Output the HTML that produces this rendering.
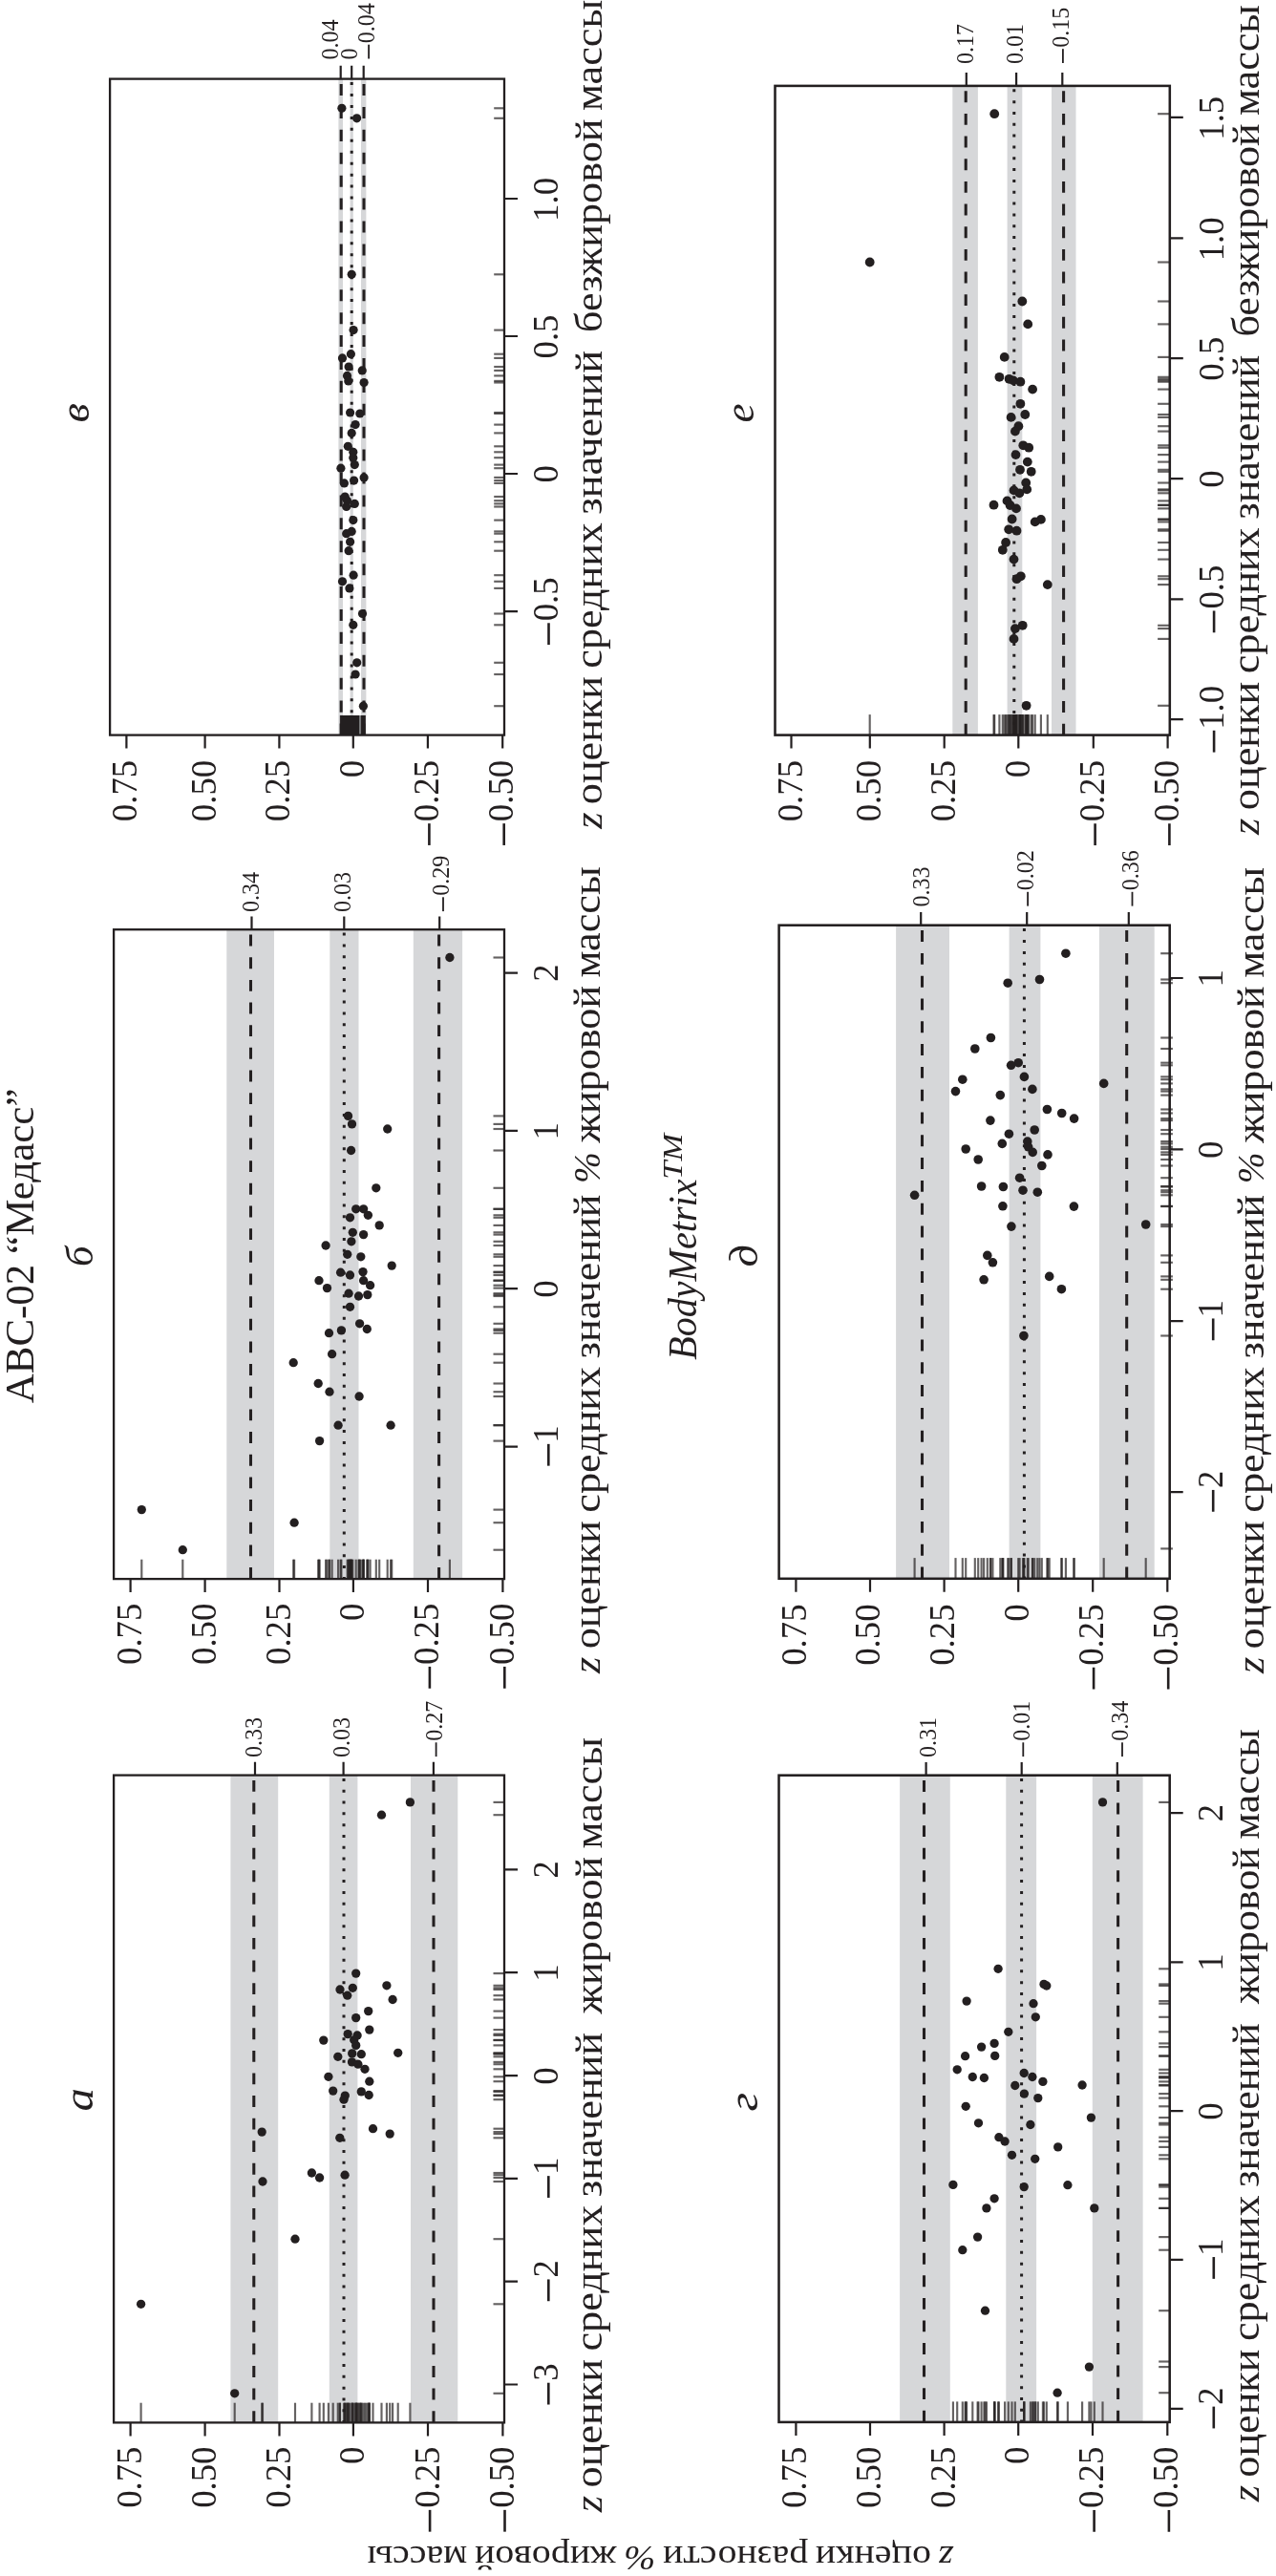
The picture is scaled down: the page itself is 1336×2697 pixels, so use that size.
<!DOCTYPE html>
<html lang="ru"><head><meta charset="utf-8"><title>Figure</title>
<style>html,body{margin:0;padding:0;background:#fff}body{width:1336px;height:2697px;overflow:hidden}svg{display:block;will-change:transform}text{font-family:"Liberation Serif",serif;fill:#231f20}</style></head><body>
<svg width="1336" height="2697" viewBox="0 0 1336 2697">
<rect width="1336" height="2697" fill="#fff"/>
<g>
<rect x="354.4" y="82.6" width="4.6" height="687" fill="#d6d7d9"/>
<rect x="366.6" y="82.6" width="3.2" height="687" fill="#d6d7d9"/>
<rect x="378" y="82.6" width="5.4" height="687" fill="#d6d7d9"/>
<line x1="357.2" y1="82.6" x2="357.2" y2="769.6" stroke="#231f20" stroke-width="3.05" stroke-dasharray="12.03 11.88" stroke-dashoffset="-5.43"/>
<line x1="368.2" y1="82.6" x2="368.2" y2="769.6" stroke="#231f20" stroke-width="3" stroke-dasharray="3 8.95" stroke-dashoffset="-3.44"/>
<line x1="381" y1="82.6" x2="381" y2="769.6" stroke="#231f20" stroke-width="3.05" stroke-dasharray="12.03 11.88" stroke-dashoffset="-5.43"/>
<g stroke="#231f20" stroke-opacity="0.7" stroke-width="2.15" fill="none">
<path d="M357.9 749V769.6"/><path d="M517.2 113.3H528"/>
<path d="M373.6 749V769.6"/><path d="M517.2 123.8H528"/>
<path d="M368.2 749V769.6"/><path d="M517.2 287.3H528"/>
<path d="M370.1 749V769.6"/><path d="M517.2 345.6H528"/>
<path d="M367.4 749V769.6"/><path d="M517.2 370.7H528"/>
<path d="M358.5 749V769.6"/><path d="M517.2 374.9H528"/>
<path d="M365.1 749V769.6"/><path d="M517.2 384H528"/>
<path d="M379.2 749V769.6"/><path d="M517.2 387.9H528"/>
<path d="M363.5 749V769.6"/><path d="M517.2 393.4H528"/>
<path d="M364.8 749V769.6"/><path d="M517.2 398.9H528"/>
<path d="M381.1 749V769.6"/><path d="M517.2 400.5H528"/>
<path d="M366.6 749V769.6"/><path d="M517.2 432H528"/>
<path d="M376.8 749V769.6"/><path d="M517.2 433H528"/>
<path d="M372.1 749V769.6"/><path d="M517.2 444.6H528"/>
<path d="M368.2 749V769.6"/><path d="M517.2 453.4H528"/>
<path d="M364.3 749V769.6"/><path d="M517.2 467.3H528"/>
<path d="M369.8 749V769.6"/><path d="M517.2 473.3H528"/>
<path d="M369.8 749V769.6"/><path d="M517.2 479.2H528"/>
<path d="M371.3 749V769.6"/><path d="M517.2 486.6H528"/>
<path d="M356.9 749V769.6"/><path d="M517.2 490.2H528"/>
<path d="M381.1 749V769.6"/><path d="M517.2 499.9H528"/>
<path d="M370.6 749V769.6"/><path d="M517.2 503.1H528"/>
<path d="M360.4 749V769.6"/><path d="M517.2 505.9H528"/>
<path d="M361.2 749V769.6"/><path d="M517.2 520H528"/>
<path d="M363.5 749V769.6"/><path d="M517.2 524.2H528"/>
<path d="M371.3 749V769.6"/><path d="M517.2 527.4H528"/>
<path d="M362.7 749V769.6"/><path d="M517.2 530.5H528"/>
<path d="M369.8 749V769.6"/><path d="M517.2 544.6H528"/>
<path d="M368.2 749V769.6"/><path d="M517.2 556.4H528"/>
<path d="M362.7 749V769.6"/><path d="M517.2 558.7H528"/>
<path d="M366.6 749V769.6"/><path d="M517.2 567.3H528"/>
<path d="M365.1 749V769.6"/><path d="M517.2 576.7H528"/>
<path d="M370.1 749V769.6"/><path d="M517.2 602.2H528"/>
<path d="M358.5 749V769.6"/><path d="M517.2 608.8H528"/>
<path d="M365.9 749V769.6"/><path d="M517.2 615.9H528"/>
<path d="M379.5 749V769.6"/><path d="M517.2 642.5H528"/>
<path d="M369.8 749V769.6"/><path d="M517.2 654.3H528"/>
<path d="M373.7 749V769.6"/><path d="M517.2 693.8H528"/>
<path d="M372.1 749V769.6"/><path d="M517.2 706H528"/>
<path d="M380.4 749V769.6"/><path d="M517.2 739.2H528"/>
</g>
<rect x="356.2" y="749" width="19.8" height="20.6" fill="#231f20"/>
<rect x="376" y="749" width="2.1" height="20.6" fill="#77787a"/>
<rect x="378.1" y="749" width="4.7" height="20.6" fill="#231f20"/>
<g fill="#231f20">
<circle cx="357.9" cy="113.3" r="4.6"/>
<circle cx="373.6" cy="123.8" r="4.6"/>
<circle cx="368.2" cy="287.3" r="4.6"/>
<circle cx="370.1" cy="345.6" r="4.6"/>
<circle cx="367.4" cy="370.7" r="4.6"/>
<circle cx="358.5" cy="374.9" r="4.6"/>
<circle cx="365.1" cy="384" r="4.6"/>
<circle cx="379.2" cy="387.9" r="4.6"/>
<circle cx="363.5" cy="393.4" r="4.6"/>
<circle cx="364.8" cy="398.9" r="4.6"/>
<circle cx="381.1" cy="400.5" r="4.6"/>
<circle cx="366.6" cy="432" r="4.6"/>
<circle cx="376.8" cy="433" r="4.6"/>
<circle cx="372.1" cy="444.6" r="4.6"/>
<circle cx="368.2" cy="453.4" r="4.6"/>
<circle cx="364.3" cy="467.3" r="4.6"/>
<circle cx="369.8" cy="473.3" r="4.6"/>
<circle cx="369.8" cy="479.2" r="4.6"/>
<circle cx="371.3" cy="486.6" r="4.6"/>
<circle cx="356.9" cy="490.2" r="4.6"/>
<circle cx="381.1" cy="499.9" r="4.6"/>
<circle cx="370.6" cy="503.1" r="4.6"/>
<circle cx="360.4" cy="505.9" r="4.6"/>
<circle cx="361.2" cy="520" r="4.6"/>
<circle cx="363.5" cy="524.2" r="4.6"/>
<circle cx="371.3" cy="527.4" r="4.6"/>
<circle cx="362.7" cy="530.5" r="4.6"/>
<circle cx="369.8" cy="544.6" r="4.6"/>
<circle cx="368.2" cy="556.4" r="4.6"/>
<circle cx="362.7" cy="558.7" r="4.6"/>
<circle cx="366.6" cy="567.3" r="4.6"/>
<circle cx="365.1" cy="576.7" r="4.6"/>
<circle cx="370.1" cy="602.2" r="4.6"/>
<circle cx="358.5" cy="608.8" r="4.6"/>
<circle cx="365.9" cy="615.9" r="4.6"/>
<circle cx="379.5" cy="642.5" r="4.6"/>
<circle cx="369.8" cy="654.3" r="4.6"/>
<circle cx="373.7" cy="693.8" r="4.6"/>
<circle cx="372.1" cy="706" r="4.6"/>
<circle cx="380.4" cy="739.2" r="4.6"/>
</g>
<rect x="115.1" y="82.6" width="412.9" height="687" fill="none" stroke="#231f20" stroke-width="2.3"/>
<path d="M132.4 769.6V783.6M214.6 769.6V783.6M292.4 769.6V783.6M369.8 769.6V783.6M447.9 769.6V783.6M526.2 769.6V783.6M528 208H542M528 352H542M528 496H542M528 640.2H542M356.7 82.6V68.8M368.2 82.6V68.8M380.7 82.6V68.8" stroke="#231f20" stroke-width="2.2" fill="none"/>
<text transform="translate(143.3 860.16) rotate(-90) scale(0.9570 1)" font-size="38.4" xml:space="preserve">0.75</text>
<text transform="translate(225.5 860.16) rotate(-90) scale(0.9570 1)" font-size="38.4" xml:space="preserve">0.50</text>
<text transform="translate(303.3 860.16) rotate(-90) scale(0.9570 1)" font-size="38.4" xml:space="preserve">0.25</text>
<text transform="translate(380.7 814.23) rotate(-90) scale(0.9570 1)" font-size="38.4" xml:space="preserve">0</text>
<text transform="translate(458.8 860.16) rotate(-90) scale(0.9570 1)" font-size="38.4" xml:space="preserve">0.25</text>
<rect x="448.1" y="862.15" width="2.6" height="22.8" fill="#231f20"/>
<text transform="translate(537.1 860.16) rotate(-90) scale(0.9570 1)" font-size="38.4" xml:space="preserve">0.50</text>
<rect x="526.4" y="862.15" width="2.6" height="22.8" fill="#231f20"/>
<text transform="translate(583.9 231.93) rotate(-90) scale(0.9570 1)" font-size="38.4" xml:space="preserve">1.0</text>
<text transform="translate(583.9 375.45) rotate(-90) scale(0.9570 1)" font-size="38.4" xml:space="preserve">0.5</text>
<text transform="translate(583.9 505.57) rotate(-90) scale(0.9570 1)" font-size="38.4" xml:space="preserve">0</text>
<text transform="translate(583.9 650.3) rotate(-90) scale(0.9570 1)" font-size="38.4" xml:space="preserve">0.5</text>
<rect x="573.2" y="652.28" width="2.6" height="22.8" fill="#231f20"/>
<text transform="translate(353.8 62.45) rotate(-90) scale(0.9550 1)" font-size="25.2" xml:space="preserve">0.04</text>
<text transform="translate(373.7 62.46) rotate(-90) scale(0.9550 1)" font-size="25.2" xml:space="preserve">0</text>
<text transform="translate(392.3 45.25) rotate(-90) scale(0.9550 1)" font-size="25.2" xml:space="preserve">0.04</text>
<rect x="385.2" y="46.7" width="1.8" height="14.8" fill="#231f20"/>
<text transform="translate(630 867.8) rotate(-90) scale(1.1051 1)" font-size="40" xml:space="preserve"><tspan style="word-spacing:-2.4px"><tspan font-style="italic">z</tspan> оценки средних значений</tspan></text>
<text transform="translate(630 348.01) rotate(-90) scale(1.1054 1)" font-size="40" xml:space="preserve"><tspan style="word-spacing:-2.4px">безжировой массы</tspan></text>
<text transform="translate(93.2 442.46) rotate(-90) scale(1.0800 1)" font-size="43.5" font-style="italic" xml:space="preserve">в</text>
</g>
<g>
<rect x="997.3" y="89.9" width="26.6" height="679.7" fill="#d6d7d9"/>
<rect x="1054.6" y="89.9" width="15.7" height="679.7" fill="#d6d7d9"/>
<rect x="1101" y="89.9" width="25.5" height="679.7" fill="#d6d7d9"/>
<line x1="1011.2" y1="89.9" x2="1011.2" y2="769.6" stroke="#231f20" stroke-width="3.05" stroke-dasharray="11.9 11.76" stroke-dashoffset="-5.37"/>
<line x1="1061.8" y1="89.9" x2="1061.8" y2="769.6" stroke="#231f20" stroke-width="3" stroke-dasharray="3 8.83" stroke-dashoffset="-3.4"/>
<line x1="1113.6" y1="89.9" x2="1113.6" y2="769.6" stroke="#231f20" stroke-width="3.05" stroke-dasharray="11.9 11.76" stroke-dashoffset="-5.37"/>
<g stroke="#231f20" stroke-opacity="0.7" stroke-width="2.15" fill="none">
<path d="M1041.2 748.1V769.6"/><path d="M1212.1 119.2H1224.8"/>
<path d="M910.7 748.1V769.6"/><path d="M1212.1 274.5H1224.8"/>
<path d="M1070.3 748.1V769.6"/><path d="M1212.1 315.5H1224.8"/>
<path d="M1076.2 748.1V769.6"/><path d="M1212.1 339.4H1224.8"/>
<path d="M1051.7 748.1V769.6"/><path d="M1212.1 373.9H1224.8"/>
<path d="M1046.4 748.1V769.6"/><path d="M1212.1 394.8H1224.8"/>
<path d="M1056.6 748.1V769.6"/><path d="M1212.1 396.8H1224.8"/>
<path d="M1061 748.1V769.6"/><path d="M1212.1 398.4H1224.8"/>
<path d="M1068.4 748.1V769.6"/><path d="M1212.1 399.7H1224.8"/>
<path d="M1081.1 748.1V769.6"/><path d="M1212.1 407.6H1224.8"/>
<path d="M1068.4 748.1V769.6"/><path d="M1212.1 422.8H1224.8"/>
<path d="M1073.3 748.1V769.6"/><path d="M1212.1 434H1224.8"/>
<path d="M1058.6 748.1V769.6"/><path d="M1212.1 436.9H1224.8"/>
<path d="M1066.4 748.1V769.6"/><path d="M1212.1 446.2H1224.8"/>
<path d="M1062.9 748.1V769.6"/><path d="M1212.1 451.6H1224.8"/>
<path d="M1071.3 748.1V769.6"/><path d="M1212.1 466.3H1224.8"/>
<path d="M1077.2 748.1V769.6"/><path d="M1212.1 468.7H1224.8"/>
<path d="M1063.5 748.1V769.6"/><path d="M1212.1 476.1H1224.8"/>
<path d="M1075.8 748.1V769.6"/><path d="M1212.1 483.6H1224.8"/>
<path d="M1068 748.1V769.6"/><path d="M1212.1 491.8H1224.8"/>
<path d="M1079.7 748.1V769.6"/><path d="M1212.1 493.8H1224.8"/>
<path d="M1074.2 748.1V769.6"/><path d="M1212.1 505.5H1224.8"/>
<path d="M1075.2 748.1V769.6"/><path d="M1212.1 512.4H1224.8"/>
<path d="M1061.5 748.1V769.6"/><path d="M1212.1 513.4H1224.8"/>
<path d="M1067.4 748.1V769.6"/><path d="M1212.1 516.3H1224.8"/>
<path d="M1054.5 748.1V769.6"/><path d="M1212.1 524.4H1224.8"/>
<path d="M1040.5 748.1V769.6"/><path d="M1212.1 528.7H1224.8"/>
<path d="M1057.6 748.1V769.6"/><path d="M1212.1 529H1224.8"/>
<path d="M1064 748.1V769.6"/><path d="M1212.1 532.4H1224.8"/>
<path d="M1059.6 748.1V769.6"/><path d="M1212.1 543.5H1224.8"/>
<path d="M1089.9 748.1V769.6"/><path d="M1212.1 543.9H1224.8"/>
<path d="M1083.7 748.1V769.6"/><path d="M1212.1 546.4H1224.8"/>
<path d="M1056.2 748.1V769.6"/><path d="M1212.1 554.3H1224.8"/>
<path d="M1064.5 748.1V769.6"/><path d="M1212.1 555.7H1224.8"/>
<path d="M1053.1 748.1V769.6"/><path d="M1212.1 568H1224.8"/>
<path d="M1049.8 748.1V769.6"/><path d="M1212.1 575.8H1224.8"/>
<path d="M1061.5 748.1V769.6"/><path d="M1212.1 585.6H1224.8"/>
<path d="M1068.8 748.1V769.6"/><path d="M1212.1 603.3H1224.8"/>
<path d="M1064.5 748.1V769.6"/><path d="M1212.1 606.2H1224.8"/>
<path d="M1096.8 748.1V769.6"/><path d="M1212.1 612.1H1224.8"/>
<path d="M1070.7 748.1V769.6"/><path d="M1212.1 654.8H1224.8"/>
<path d="M1062.9 748.1V769.6"/><path d="M1212.1 658.1H1224.8"/>
<path d="M1061.5 748.1V769.6"/><path d="M1212.1 668.9H1224.8"/>
<path d="M1074.6 748.1V769.6"/><path d="M1212.1 738.8H1224.8"/>
</g>
<g fill="#231f20">
<circle cx="1041.2" cy="119.2" r="4.9"/>
<circle cx="910.7" cy="274.5" r="4.9"/>
<circle cx="1070.3" cy="315.5" r="4.9"/>
<circle cx="1076.2" cy="339.4" r="4.9"/>
<circle cx="1051.7" cy="373.9" r="4.9"/>
<circle cx="1046.4" cy="394.8" r="4.9"/>
<circle cx="1056.6" cy="396.8" r="4.9"/>
<circle cx="1061" cy="398.4" r="4.9"/>
<circle cx="1068.4" cy="399.7" r="4.9"/>
<circle cx="1081.1" cy="407.6" r="4.9"/>
<circle cx="1068.4" cy="422.8" r="4.9"/>
<circle cx="1073.3" cy="434" r="4.9"/>
<circle cx="1058.6" cy="436.9" r="4.9"/>
<circle cx="1066.4" cy="446.2" r="4.9"/>
<circle cx="1062.9" cy="451.6" r="4.9"/>
<circle cx="1071.3" cy="466.3" r="4.9"/>
<circle cx="1077.2" cy="468.7" r="4.9"/>
<circle cx="1063.5" cy="476.1" r="4.9"/>
<circle cx="1075.8" cy="483.6" r="4.9"/>
<circle cx="1068" cy="491.8" r="4.9"/>
<circle cx="1079.7" cy="493.8" r="4.9"/>
<circle cx="1074.2" cy="505.5" r="4.9"/>
<circle cx="1075.2" cy="512.4" r="4.9"/>
<circle cx="1061.5" cy="513.4" r="4.9"/>
<circle cx="1067.4" cy="516.3" r="4.9"/>
<circle cx="1054.5" cy="524.4" r="4.9"/>
<circle cx="1040.5" cy="528.7" r="4.9"/>
<circle cx="1057.6" cy="529" r="4.9"/>
<circle cx="1064" cy="532.4" r="4.9"/>
<circle cx="1059.6" cy="543.5" r="4.9"/>
<circle cx="1089.9" cy="543.9" r="4.9"/>
<circle cx="1083.7" cy="546.4" r="4.9"/>
<circle cx="1056.2" cy="554.3" r="4.9"/>
<circle cx="1064.5" cy="555.7" r="4.9"/>
<circle cx="1053.1" cy="568" r="4.9"/>
<circle cx="1049.8" cy="575.8" r="4.9"/>
<circle cx="1061.5" cy="585.6" r="4.9"/>
<circle cx="1068.8" cy="603.3" r="4.9"/>
<circle cx="1064.5" cy="606.2" r="4.9"/>
<circle cx="1096.8" cy="612.1" r="4.9"/>
<circle cx="1070.7" cy="654.8" r="4.9"/>
<circle cx="1062.9" cy="658.1" r="4.9"/>
<circle cx="1061.5" cy="668.9" r="4.9"/>
<circle cx="1074.6" cy="738.8" r="4.9"/>
</g>
<rect x="811.5" y="89.9" width="413.3" height="679.7" fill="none" stroke="#231f20" stroke-width="2.55"/>
<path d="M828.5 769.6V783.6M910.8 769.6V783.6M988.7 769.6V783.6M1066.3 769.6V783.6M1144.8 769.6V783.6M1222.6 769.6V783.6M1224.8 122.8H1238.8M1224.8 249.4H1238.8M1224.8 375.2H1238.8M1224.8 501.2H1238.8M1224.8 627.4H1238.8M1224.8 753.2H1238.8M1011.8 89.9V76.1M1064.1 89.9V76.1M1112.3 89.9V76.1" stroke="#231f20" stroke-width="2.2" fill="none"/>
<text transform="translate(839.7 860.26) rotate(-90) scale(0.9570 1)" font-size="38.4" xml:space="preserve">0.75</text>
<text transform="translate(922 860.26) rotate(-90) scale(0.9570 1)" font-size="38.4" xml:space="preserve">0.50</text>
<text transform="translate(999.9 860.26) rotate(-90) scale(0.9570 1)" font-size="38.4" xml:space="preserve">0.25</text>
<text transform="translate(1077.5 814.33) rotate(-90) scale(0.9570 1)" font-size="38.4" xml:space="preserve">0</text>
<text transform="translate(1156 860.26) rotate(-90) scale(0.9570 1)" font-size="38.4" xml:space="preserve">0.25</text>
<rect x="1145.3" y="862.25" width="2.6" height="22.8" fill="#231f20"/>
<text transform="translate(1233.8 860.26) rotate(-90) scale(0.9570 1)" font-size="38.4" xml:space="preserve">0.50</text>
<rect x="1223.1" y="862.25" width="2.6" height="22.8" fill="#231f20"/>
<text transform="translate(1280.5 146.72) rotate(-90) scale(0.9570 1)" font-size="38.4" xml:space="preserve">1.5</text>
<text transform="translate(1280.5 273.32) rotate(-90) scale(0.9570 1)" font-size="38.4" xml:space="preserve">1.0</text>
<text transform="translate(1280.5 398.65) rotate(-90) scale(0.9570 1)" font-size="38.4" xml:space="preserve">0.5</text>
<text transform="translate(1280.5 510.77) rotate(-90) scale(0.9570 1)" font-size="38.4" xml:space="preserve">0</text>
<text transform="translate(1280.5 637.5) rotate(-90) scale(0.9570 1)" font-size="38.4" xml:space="preserve">0.5</text>
<rect x="1269.8" y="639.48" width="2.6" height="22.8" fill="#231f20"/>
<text transform="translate(1280.5 763.78) rotate(-90) scale(0.9570 1)" font-size="38.4" xml:space="preserve">1.0</text>
<rect x="1269.8" y="764.8" width="2.6" height="22.8" fill="#231f20"/>
<text transform="translate(1019.2 66.95) rotate(-90) scale(0.9550 1)" font-size="25.2" xml:space="preserve">0.17</text>
<text transform="translate(1070.5 66.95) rotate(-90) scale(0.9550 1)" font-size="25.2" xml:space="preserve">0.01</text>
<text transform="translate(1119.1 49.75) rotate(-90) scale(0.9550 1)" font-size="25.2" xml:space="preserve">0.15</text>
<rect x="1112" y="51.2" width="1.8" height="14.8" fill="#231f20"/>
<text transform="translate(1317.9 873.9) rotate(-90) scale(1.1082 1)" font-size="40" xml:space="preserve"><tspan style="word-spacing:-2.4px"><tspan font-style="italic">z</tspan> оценки средних значений</tspan></text>
<text transform="translate(1317.9 352.51) rotate(-90) scale(1.1035 1)" font-size="40" xml:space="preserve"><tspan style="word-spacing:-2.4px">безжировой массы</tspan></text>
<text transform="translate(789.2 442.58) rotate(-90) scale(1.0400 1)" font-size="43.5" font-style="italic" xml:space="preserve">е</text>
</g>
<g>
<rect x="237.3" y="973.2" width="49.7" height="679.9" fill="#d6d7d9"/>
<rect x="345.3" y="973.2" width="30.2" height="679.9" fill="#d6d7d9"/>
<rect x="432.8" y="973.2" width="51.3" height="679.9" fill="#d6d7d9"/>
<line x1="262.5" y1="973.2" x2="262.5" y2="1653.1" stroke="#231f20" stroke-width="3.05" stroke-dasharray="11.9 11.76" stroke-dashoffset="-5.37"/>
<line x1="360.3" y1="973.2" x2="360.3" y2="1653.1" stroke="#231f20" stroke-width="3" stroke-dasharray="3 8.83" stroke-dashoffset="-3.4"/>
<line x1="459.6" y1="973.2" x2="459.6" y2="1653.1" stroke="#231f20" stroke-width="3.05" stroke-dasharray="11.9 11.76" stroke-dashoffset="-5.37"/>
<g stroke="#231f20" stroke-opacity="0.7" stroke-width="2.15" fill="none">
<path d="M470.9 1632.7V1653.1"/><path d="M516.5 1002.5H528"/>
<path d="M364.5 1632.7V1653.1"/><path d="M516.5 1168.4H528"/>
<path d="M368.5 1632.7V1653.1"/><path d="M516.5 1176.9H528"/>
<path d="M405.7 1632.7V1653.1"/><path d="M516.5 1182H528"/>
<path d="M367.6 1632.7V1653.1"/><path d="M516.5 1204.5H528"/>
<path d="M393.8 1632.7V1653.1"/><path d="M516.5 1243.8H528"/>
<path d="M372.7 1632.7V1653.1"/><path d="M516.5 1265.8H528"/>
<path d="M380.6 1632.7V1653.1"/><path d="M516.5 1265.8H528"/>
<path d="M385.4 1632.7V1653.1"/><path d="M516.5 1272.3H528"/>
<path d="M366.5 1632.7V1653.1"/><path d="M516.5 1274.8H528"/>
<path d="M397.2 1632.7V1653.1"/><path d="M516.5 1282.9H528"/>
<path d="M369.3 1632.7V1653.1"/><path d="M516.5 1290.3H528"/>
<path d="M380.6 1632.7V1653.1"/><path d="M516.5 1292.6H528"/>
<path d="M367.9 1632.7V1653.1"/><path d="M516.5 1299.8H528"/>
<path d="M341.1 1632.7V1653.1"/><path d="M516.5 1304H528"/>
<path d="M363.7 1632.7V1653.1"/><path d="M516.5 1313.3H528"/>
<path d="M377.8 1632.7V1653.1"/><path d="M516.5 1315.8H528"/>
<path d="M410.2 1632.7V1653.1"/><path d="M516.5 1325.1H528"/>
<path d="M356.6 1632.7V1653.1"/><path d="M516.5 1332.2H528"/>
<path d="M380 1632.7V1653.1"/><path d="M516.5 1331.6H528"/>
<path d="M366.5 1632.7V1653.1"/><path d="M516.5 1335H528"/>
<path d="M334 1632.7V1653.1"/><path d="M516.5 1340.7H528"/>
<path d="M380.6 1632.7V1653.1"/><path d="M516.5 1340.7H528"/>
<path d="M387.6 1632.7V1653.1"/><path d="M516.5 1345.7H528"/>
<path d="M342.5 1632.7V1653.1"/><path d="M516.5 1348.6H528"/>
<path d="M365.1 1632.7V1653.1"/><path d="M516.5 1354.2H528"/>
<path d="M384.8 1632.7V1653.1"/><path d="M516.5 1355.6H528"/>
<path d="M375.5 1632.7V1653.1"/><path d="M516.5 1357H528"/>
<path d="M366.5 1632.7V1653.1"/><path d="M516.5 1368.3H528"/>
<path d="M376.6 1632.7V1653.1"/><path d="M516.5 1385.8H528"/>
<path d="M384.3 1632.7V1653.1"/><path d="M516.5 1391.5H528"/>
<path d="M357.4 1632.7V1653.1"/><path d="M516.5 1392.9H528"/>
<path d="M344.5 1632.7V1653.1"/><path d="M516.5 1395.7H528"/>
<path d="M347.6 1632.7V1653.1"/><path d="M516.5 1417.7H528"/>
<path d="M307.2 1632.7V1653.1"/><path d="M516.5 1426.7H528"/>
<path d="M333.2 1632.7V1653.1"/><path d="M516.5 1448.5H528"/>
<path d="M345 1632.7V1653.1"/><path d="M516.5 1457.2H528"/>
<path d="M376.1 1632.7V1653.1"/><path d="M516.5 1462H528"/>
<path d="M354.1 1632.7V1653.1"/><path d="M516.5 1492.2H528"/>
<path d="M409.1 1632.7V1653.1"/><path d="M516.5 1492.2H528"/>
<path d="M334.6 1632.7V1653.1"/><path d="M516.5 1508.6H528"/>
<path d="M308.1 1632.7V1653.1"/><path d="M516.5 1594.2H528"/>
<path d="M148.3 1632.7V1653.1"/><path d="M516.5 1580.6H528"/>
<path d="M191.3 1632.7V1653.1"/><path d="M516.5 1622.7H528"/>
</g>
<g fill="#231f20">
<circle cx="470.9" cy="1002.5" r="4.65"/>
<circle cx="364.5" cy="1168.4" r="4.65"/>
<circle cx="368.5" cy="1176.9" r="4.65"/>
<circle cx="405.7" cy="1182" r="4.65"/>
<circle cx="367.6" cy="1204.5" r="4.65"/>
<circle cx="393.8" cy="1243.8" r="4.65"/>
<circle cx="372.7" cy="1265.8" r="4.65"/>
<circle cx="380.6" cy="1265.8" r="4.65"/>
<circle cx="385.4" cy="1272.3" r="4.65"/>
<circle cx="366.5" cy="1274.8" r="4.65"/>
<circle cx="397.2" cy="1282.9" r="4.65"/>
<circle cx="369.3" cy="1290.3" r="4.65"/>
<circle cx="380.6" cy="1292.6" r="4.65"/>
<circle cx="367.9" cy="1299.8" r="4.65"/>
<circle cx="341.1" cy="1304" r="4.65"/>
<circle cx="363.7" cy="1313.3" r="4.65"/>
<circle cx="377.8" cy="1315.8" r="4.65"/>
<circle cx="410.2" cy="1325.1" r="4.65"/>
<circle cx="356.6" cy="1332.2" r="4.65"/>
<circle cx="380" cy="1331.6" r="4.65"/>
<circle cx="366.5" cy="1335" r="4.65"/>
<circle cx="334" cy="1340.7" r="4.65"/>
<circle cx="380.6" cy="1340.7" r="4.65"/>
<circle cx="387.6" cy="1345.7" r="4.65"/>
<circle cx="342.5" cy="1348.6" r="4.65"/>
<circle cx="365.1" cy="1354.2" r="4.65"/>
<circle cx="384.8" cy="1355.6" r="4.65"/>
<circle cx="375.5" cy="1357" r="4.65"/>
<circle cx="366.5" cy="1368.3" r="4.65"/>
<circle cx="376.6" cy="1385.8" r="4.65"/>
<circle cx="384.3" cy="1391.5" r="4.65"/>
<circle cx="357.4" cy="1392.9" r="4.65"/>
<circle cx="344.5" cy="1395.7" r="4.65"/>
<circle cx="347.6" cy="1417.7" r="4.65"/>
<circle cx="307.2" cy="1426.7" r="4.65"/>
<circle cx="333.2" cy="1448.5" r="4.65"/>
<circle cx="345" cy="1457.2" r="4.65"/>
<circle cx="376.1" cy="1462" r="4.65"/>
<circle cx="354.1" cy="1492.2" r="4.65"/>
<circle cx="409.1" cy="1492.2" r="4.65"/>
<circle cx="334.6" cy="1508.6" r="4.65"/>
<circle cx="308.1" cy="1594.2" r="4.65"/>
<circle cx="148.3" cy="1580.6" r="4.65"/>
<circle cx="191.3" cy="1622.7" r="4.65"/>
</g>
<rect x="119.1" y="973.2" width="408.9" height="679.9" fill="none" stroke="#231f20" stroke-width="2.3"/>
<path d="M136.6 1653.1V1667.1M214.6 1653.1V1667.1M292.5 1653.1V1667.1M369.9 1653.1V1667.1M448 1653.1V1667.1M526.4 1653.1V1667.1M528 1018.6H542M528 1183.9H542M528 1349.1H542M528 1514.6H542M263.5 973.2V959.4M360.3 973.2V959.4M460.2 973.2V959.4" stroke="#231f20" stroke-width="2.2" fill="none"/>
<text transform="translate(147.9 1742.96) rotate(-90) scale(0.9570 1)" font-size="38.4" xml:space="preserve">0.75</text>
<text transform="translate(225.9 1742.96) rotate(-90) scale(0.9570 1)" font-size="38.4" xml:space="preserve">0.50</text>
<text transform="translate(303.8 1742.96) rotate(-90) scale(0.9570 1)" font-size="38.4" xml:space="preserve">0.25</text>
<text transform="translate(381.2 1697.03) rotate(-90) scale(0.9570 1)" font-size="38.4" xml:space="preserve">0</text>
<text transform="translate(459.3 1742.96) rotate(-90) scale(0.9570 1)" font-size="38.4" xml:space="preserve">0.25</text>
<rect x="448.6" y="1744.95" width="2.6" height="22.8" fill="#231f20"/>
<text transform="translate(537.7 1742.96) rotate(-90) scale(0.9570 1)" font-size="38.4" xml:space="preserve">0.50</text>
<rect x="527" y="1744.95" width="2.6" height="22.8" fill="#231f20"/>
<text transform="translate(583.7 1027.69) rotate(-90) scale(0.9570 1)" font-size="38.4" xml:space="preserve">2</text>
<text transform="translate(583.7 1193.47) rotate(-90) scale(0.9570 1)" font-size="38.4" xml:space="preserve">1</text>
<text transform="translate(583.7 1358.67) rotate(-90) scale(0.9570 1)" font-size="38.4" xml:space="preserve">0</text>
<text transform="translate(583.7 1510.82) rotate(-90) scale(0.9570 1)" font-size="38.4" xml:space="preserve">1</text>
<rect x="573" y="1511.85" width="2.6" height="22.8" fill="#231f20"/>
<text transform="translate(271.3 955.06) rotate(-90) scale(0.9550 1)" font-size="25.2" xml:space="preserve">0.34</text>
<text transform="translate(366.5 955.06) rotate(-90) scale(0.9550 1)" font-size="25.2" xml:space="preserve">0.03</text>
<text transform="translate(470.2 937.86) rotate(-90) scale(0.9550 1)" font-size="25.2" xml:space="preserve">0.29</text>
<rect x="463.1" y="939.3" width="1.8" height="14.8" fill="#231f20"/>
<text transform="translate(627.7 1752) rotate(-90) scale(1.1066 1)" font-size="40" xml:space="preserve"><tspan style="word-spacing:-2.4px"><tspan font-style="italic">z</tspan> оценки средних значений</tspan></text>
<text transform="translate(627.7 1238.97) rotate(-90) scale(0.9862 1)" font-size="40" font-style="italic" xml:space="preserve">%</text>
<text transform="translate(627.7 1196.6) rotate(-90) scale(1.1050 1)" font-size="40" xml:space="preserve"><tspan style="word-spacing:-2.4px">жировой массы</tspan></text>
<text transform="translate(97 1325.88) rotate(-90) scale(1.0400 1)" font-size="41" font-style="italic" xml:space="preserve">б</text>
</g>
<g>
<rect x="938.1" y="968.7" width="55.9" height="684.1" fill="#d6d7d9"/>
<rect x="1056.6" y="968.7" width="32.8" height="684.1" fill="#d6d7d9"/>
<rect x="1150.9" y="968.7" width="57.8" height="684.1" fill="#d6d7d9"/>
<line x1="965.5" y1="968.7" x2="965.5" y2="1652.8" stroke="#231f20" stroke-width="3.05" stroke-dasharray="11.97 11.83" stroke-dashoffset="-5.4"/>
<line x1="1072.4" y1="968.7" x2="1072.4" y2="1652.8" stroke="#231f20" stroke-width="3" stroke-dasharray="3 8.9" stroke-dashoffset="-3.42"/>
<line x1="1179.7" y1="968.7" x2="1179.7" y2="1652.8" stroke="#231f20" stroke-width="3.05" stroke-dasharray="11.97 11.83" stroke-dashoffset="-5.4"/>
<g stroke="#231f20" stroke-opacity="0.7" stroke-width="2.15" fill="none">
<path d="M1115.9 1631.1V1652.8"/><path d="M1215.2 998.2H1227.9"/>
<path d="M1088.5 1631.1V1652.8"/><path d="M1215.2 1025.5H1227.9"/>
<path d="M1055.2 1631.1V1652.8"/><path d="M1215.2 1029.2H1227.9"/>
<path d="M1037.4 1631.1V1652.8"/><path d="M1215.2 1086.5H1227.9"/>
<path d="M1020.8 1631.1V1652.8"/><path d="M1215.2 1098H1227.9"/>
<path d="M1066.2 1631.1V1652.8"/><path d="M1215.2 1112.7H1227.9"/>
<path d="M1058.6 1631.1V1652.8"/><path d="M1215.2 1115.3H1227.9"/>
<path d="M1072.4 1631.1V1652.8"/><path d="M1215.2 1127.4H1227.9"/>
<path d="M1007.8 1631.1V1652.8"/><path d="M1215.2 1130.2H1227.9"/>
<path d="M1155.7 1631.1V1652.8"/><path d="M1215.2 1134.4H1227.9"/>
<path d="M1080.9 1631.1V1652.8"/><path d="M1215.2 1140.4H1227.9"/>
<path d="M1000.5 1631.1V1652.8"/><path d="M1215.2 1142.6H1227.9"/>
<path d="M1047.3 1631.1V1652.8"/><path d="M1215.2 1146.6H1227.9"/>
<path d="M1096.4 1631.1V1652.8"/><path d="M1215.2 1161.5H1227.9"/>
<path d="M1111.7 1631.1V1652.8"/><path d="M1215.2 1165.5H1227.9"/>
<path d="M1124.6 1631.1V1652.8"/><path d="M1215.2 1171.1H1227.9"/>
<path d="M1036.9 1631.1V1652.8"/><path d="M1215.2 1173.1H1227.9"/>
<path d="M1083.2 1631.1V1652.8"/><path d="M1215.2 1183H1227.9"/>
<path d="M1056.4 1631.1V1652.8"/><path d="M1215.2 1187.2H1227.9"/>
<path d="M1075.8 1631.1V1652.8"/><path d="M1215.2 1195.1H1227.9"/>
<path d="M1049.3 1631.1V1652.8"/><path d="M1215.2 1197.4H1227.9"/>
<path d="M1076.7 1631.1V1652.8"/><path d="M1215.2 1200.8H1227.9"/>
<path d="M1011.2 1631.1V1652.8"/><path d="M1215.2 1203H1227.9"/>
<path d="M1081.2 1631.1V1652.8"/><path d="M1215.2 1206.4H1227.9"/>
<path d="M1097 1631.1V1652.8"/><path d="M1215.2 1208.9H1227.9"/>
<path d="M1024.2 1631.1V1652.8"/><path d="M1215.2 1214H1227.9"/>
<path d="M1090.8 1631.1V1652.8"/><path d="M1215.2 1220.5H1227.9"/>
<path d="M1067.6 1631.1V1652.8"/><path d="M1215.2 1233.2H1227.9"/>
<path d="M1027.6 1631.1V1652.8"/><path d="M1215.2 1242H1227.9"/>
<path d="M1050.4 1631.1V1652.8"/><path d="M1215.2 1242.5H1227.9"/>
<path d="M1071 1631.1V1652.8"/><path d="M1215.2 1246.2H1227.9"/>
<path d="M1086.3 1631.1V1652.8"/><path d="M1215.2 1248.2H1227.9"/>
<path d="M957.6 1631.1V1652.8"/><path d="M1215.2 1251.3H1227.9"/>
<path d="M1049.9 1631.1V1652.8"/><path d="M1215.2 1262.8H1227.9"/>
<path d="M1124.4 1631.1V1652.8"/><path d="M1215.2 1263.1H1227.9"/>
<path d="M1199.7 1631.1V1652.8"/><path d="M1215.2 1282H1227.9"/>
<path d="M1058.9 1631.1V1652.8"/><path d="M1215.2 1284.1H1227.9"/>
<path d="M1033.8 1631.1V1652.8"/><path d="M1215.2 1314.4H1227.9"/>
<path d="M1039.4 1631.1V1652.8"/><path d="M1215.2 1321.8H1227.9"/>
<path d="M1098.7 1631.1V1652.8"/><path d="M1215.2 1336.4H1227.9"/>
<path d="M1030.1 1631.1V1652.8"/><path d="M1215.2 1339.8H1227.9"/>
<path d="M1111.4 1631.1V1652.8"/><path d="M1215.2 1349.7H1227.9"/>
<path d="M1071.9 1631.1V1652.8"/><path d="M1215.2 1398.5H1227.9"/>
<path d="M1215.2 1621.4H1227.9"/>
</g>
<g fill="#231f20">
<circle cx="1115.9" cy="998.2" r="4.8"/>
<circle cx="1088.5" cy="1025.5" r="4.8"/>
<circle cx="1055.2" cy="1029.2" r="4.8"/>
<circle cx="1037.4" cy="1086.5" r="4.8"/>
<circle cx="1020.8" cy="1098" r="4.8"/>
<circle cx="1066.2" cy="1112.7" r="4.8"/>
<circle cx="1058.6" cy="1115.3" r="4.8"/>
<circle cx="1072.4" cy="1127.4" r="4.8"/>
<circle cx="1007.8" cy="1130.2" r="4.8"/>
<circle cx="1155.7" cy="1134.4" r="4.8"/>
<circle cx="1080.9" cy="1140.4" r="4.8"/>
<circle cx="1000.5" cy="1142.6" r="4.8"/>
<circle cx="1047.3" cy="1146.6" r="4.8"/>
<circle cx="1096.4" cy="1161.5" r="4.8"/>
<circle cx="1111.7" cy="1165.5" r="4.8"/>
<circle cx="1124.6" cy="1171.1" r="4.8"/>
<circle cx="1036.9" cy="1173.1" r="4.8"/>
<circle cx="1083.2" cy="1183" r="4.8"/>
<circle cx="1056.4" cy="1187.2" r="4.8"/>
<circle cx="1075.8" cy="1195.1" r="4.8"/>
<circle cx="1049.3" cy="1197.4" r="4.8"/>
<circle cx="1076.7" cy="1200.8" r="4.8"/>
<circle cx="1011.2" cy="1203" r="4.8"/>
<circle cx="1081.2" cy="1206.4" r="4.8"/>
<circle cx="1097" cy="1208.9" r="4.8"/>
<circle cx="1024.2" cy="1214" r="4.8"/>
<circle cx="1090.8" cy="1220.5" r="4.8"/>
<circle cx="1067.6" cy="1233.2" r="4.8"/>
<circle cx="1027.6" cy="1242" r="4.8"/>
<circle cx="1050.4" cy="1242.5" r="4.8"/>
<circle cx="1071" cy="1246.2" r="4.8"/>
<circle cx="1086.3" cy="1248.2" r="4.8"/>
<circle cx="957.6" cy="1251.3" r="4.8"/>
<circle cx="1049.9" cy="1262.8" r="4.8"/>
<circle cx="1124.4" cy="1263.1" r="4.8"/>
<circle cx="1199.7" cy="1282" r="4.8"/>
<circle cx="1058.9" cy="1284.1" r="4.8"/>
<circle cx="1033.8" cy="1314.4" r="4.8"/>
<circle cx="1039.4" cy="1321.8" r="4.8"/>
<circle cx="1098.7" cy="1336.4" r="4.8"/>
<circle cx="1030.1" cy="1339.8" r="4.8"/>
<circle cx="1111.4" cy="1349.7" r="4.8"/>
<circle cx="1071.9" cy="1398.5" r="4.8"/>
</g>
<rect x="815.6" y="968.7" width="409.1" height="684.1" fill="none" stroke="#231f20" stroke-width="2.55"/>
<path d="M833.4 1652.8V1666.8M911 1652.8V1666.8M988.6 1652.8V1666.8M1066.2 1652.8V1666.8M1144.2 1652.8V1666.8M1222.3 1652.8V1666.8M1224.7 1024H1238.7M1224.7 1203.4H1238.7M1224.7 1383.2H1238.7M1224.7 1562.2H1238.7M964.2 968.7V954.9M1075.2 968.7V954.9M1181.8 968.7V954.9" stroke="#231f20" stroke-width="2.2" fill="none"/>
<text transform="translate(843.7 1743.76) rotate(-90) scale(0.9570 1)" font-size="38.4" xml:space="preserve">0.75</text>
<text transform="translate(921.3 1743.76) rotate(-90) scale(0.9570 1)" font-size="38.4" xml:space="preserve">0.50</text>
<text transform="translate(998.9 1743.76) rotate(-90) scale(0.9570 1)" font-size="38.4" xml:space="preserve">0.25</text>
<text transform="translate(1076.5 1697.83) rotate(-90) scale(0.9570 1)" font-size="38.4" xml:space="preserve">0</text>
<text transform="translate(1154.5 1743.76) rotate(-90) scale(0.9570 1)" font-size="38.4" xml:space="preserve">0.25</text>
<rect x="1143.8" y="1745.75" width="2.6" height="22.8" fill="#231f20"/>
<text transform="translate(1232.6 1743.76) rotate(-90) scale(0.9570 1)" font-size="38.4" xml:space="preserve">0.50</text>
<rect x="1221.9" y="1745.75" width="2.6" height="22.8" fill="#231f20"/>
<text transform="translate(1279.6 1033.57) rotate(-90) scale(0.9570 1)" font-size="38.4" xml:space="preserve">1</text>
<text transform="translate(1279.6 1212.97) rotate(-90) scale(0.9570 1)" font-size="38.4" xml:space="preserve">0</text>
<text transform="translate(1279.6 1379.42) rotate(-90) scale(0.9570 1)" font-size="38.4" xml:space="preserve">1</text>
<rect x="1268.9" y="1380.45" width="2.6" height="22.8" fill="#231f20"/>
<text transform="translate(1279.6 1557.94) rotate(-90) scale(0.9570 1)" font-size="38.4" xml:space="preserve">2</text>
<rect x="1268.9" y="1559.93" width="2.6" height="22.8" fill="#231f20"/>
<text transform="translate(973 949.56) rotate(-90) scale(0.9550 1)" font-size="25.2" xml:space="preserve">0.33</text>
<text transform="translate(1082.3 932.36) rotate(-90) scale(0.9550 1)" font-size="25.2" xml:space="preserve">0.02</text>
<rect x="1075.2" y="933.8" width="1.8" height="14.8" fill="#231f20"/>
<text transform="translate(1191.7 932.36) rotate(-90) scale(0.9550 1)" font-size="25.2" xml:space="preserve">0.36</text>
<rect x="1184.6" y="933.8" width="1.8" height="14.8" fill="#231f20"/>
<text transform="translate(1323.3 1752) rotate(-90) scale(1.1062 1)" font-size="40" xml:space="preserve"><tspan style="word-spacing:-2.4px"><tspan font-style="italic">z</tspan> оценки средних значений</tspan></text>
<text transform="translate(1323.3 1239.17) rotate(-90) scale(0.9862 1)" font-size="40" font-style="italic" xml:space="preserve">%</text>
<text transform="translate(1323.3 1196.8) rotate(-90) scale(1.1042 1)" font-size="40" xml:space="preserve"><tspan style="word-spacing:-2.4px">жировой массы</tspan></text>
<text transform="translate(793 1326.25) rotate(-90) scale(1.1000 1)" font-size="41.5" font-style="italic" xml:space="preserve">д</text>
</g>
<g>
<rect x="241.4" y="1858.6" width="49.8" height="677.8" fill="#d6d7d9"/>
<rect x="344.8" y="1858.6" width="29.6" height="677.8" fill="#d6d7d9"/>
<rect x="430" y="1858.6" width="49.3" height="677.8" fill="#d6d7d9"/>
<line x1="265.8" y1="1858.6" x2="265.8" y2="2536.4" stroke="#231f20" stroke-width="3.05" stroke-dasharray="11.86 11.72" stroke-dashoffset="-5.35"/>
<line x1="360" y1="1858.6" x2="360" y2="2536.4" stroke="#231f20" stroke-width="3" stroke-dasharray="3 8.79" stroke-dashoffset="-3.39"/>
<line x1="454" y1="1858.6" x2="454" y2="2536.4" stroke="#231f20" stroke-width="3.05" stroke-dasharray="11.86 11.72" stroke-dashoffset="-5.35"/>
<g stroke="#231f20" stroke-opacity="0.7" stroke-width="2.15" fill="none">
<path d="M429.4 2515.7V2536.4"/><path d="M516.5 1886.9H528"/>
<path d="M399.5 2515.7V2536.4"/><path d="M516.5 1900.2H528"/>
<path d="M372.7 2515.7V2536.4"/><path d="M516.5 2066.1H528"/>
<path d="M404.9 2515.7V2536.4"/><path d="M516.5 2078.8H528"/>
<path d="M369.3 2515.7V2536.4"/><path d="M516.5 2081.3H528"/>
<path d="M356 2515.7V2536.4"/><path d="M516.5 2083H528"/>
<path d="M363.7 2515.7V2536.4"/><path d="M516.5 2089.2H528"/>
<path d="M411.1 2515.7V2536.4"/><path d="M516.5 2093.5H528"/>
<path d="M385.7 2515.7V2536.4"/><path d="M516.5 2105.6H528"/>
<path d="M372.7 2515.7V2536.4"/><path d="M516.5 2112.6H528"/>
<path d="M386.8 2515.7V2536.4"/><path d="M516.5 2125.1H528"/>
<path d="M364.2 2515.7V2536.4"/><path d="M516.5 2129.6H528"/>
<path d="M374.1 2515.7V2536.4"/><path d="M516.5 2131H528"/>
<path d="M338.8 2515.7V2536.4"/><path d="M516.5 2136.1H528"/>
<path d="M370.7 2515.7V2536.4"/><path d="M516.5 2135.8H528"/>
<path d="M372.7 2515.7V2536.4"/><path d="M516.5 2141.4H528"/>
<path d="M416.7 2515.7V2536.4"/><path d="M516.5 2149.3H528"/>
<path d="M368.7 2515.7V2536.4"/><path d="M516.5 2149.9H528"/>
<path d="M378.3 2515.7V2536.4"/><path d="M516.5 2150.7H528"/>
<path d="M353.8 2515.7V2536.4"/><path d="M516.5 2153.3H528"/>
<path d="M368.5 2515.7V2536.4"/><path d="M516.5 2158.9H528"/>
<path d="M374.9 2515.7V2536.4"/><path d="M516.5 2161.2H528"/>
<path d="M382 2515.7V2536.4"/><path d="M516.5 2166.3H528"/>
<path d="M343.9 2515.7V2536.4"/><path d="M516.5 2174.3H528"/>
<path d="M386.8 2515.7V2536.4"/><path d="M516.5 2179.2H528"/>
<path d="M348.7 2515.7V2536.4"/><path d="M516.5 2189.1H528"/>
<path d="M378.3 2515.7V2536.4"/><path d="M516.5 2189.9H528"/>
<path d="M386.2 2515.7V2536.4"/><path d="M516.5 2193.5H528"/>
<path d="M361.3 2515.7V2536.4"/><path d="M516.5 2194.1H528"/>
<path d="M360 2515.7V2536.4"/><path d="M516.5 2198.2H528"/>
<path d="M274.2 2515.7V2536.4"/><path d="M516.5 2232.1H528"/>
<path d="M390.5 2515.7V2536.4"/><path d="M516.5 2228.7H528"/>
<path d="M408.2 2515.7V2536.4"/><path d="M516.5 2234.1H528"/>
<path d="M355.8 2515.7V2536.4"/><path d="M516.5 2238.3H528"/>
<path d="M326.4 2515.7V2536.4"/><path d="M516.5 2275H528"/>
<path d="M334.6 2515.7V2536.4"/><path d="M516.5 2280H528"/>
<path d="M361.1 2515.7V2536.4"/><path d="M516.5 2277.2H528"/>
<path d="M275 2515.7V2536.4"/><path d="M516.5 2284H528"/>
<path d="M309 2515.7V2536.4"/><path d="M516.5 2344.2H528"/>
<path d="M245.7 2515.7V2536.4"/><path d="M516.5 2505.8H528"/>
<path d="M147.6 2515.7V2536.4"/><path d="M516.5 2412.3H528"/>
<path d="M362.6 2515.7V2536.4"/>
<path d="M366.2 2515.7V2536.4"/>
<path d="M376.4 2515.7V2536.4"/>
<path d="M380.2 2515.7V2536.4"/>
<path d="M383.8 2515.7V2536.4"/>
<path d="M365 2515.7V2536.4"/>
<path d="M377.2 2515.7V2536.4"/>
</g>
<g fill="#231f20">
<circle cx="429.4" cy="1886.9" r="4.65"/>
<circle cx="399.5" cy="1900.2" r="4.65"/>
<circle cx="372.7" cy="2066.1" r="4.65"/>
<circle cx="404.9" cy="2078.8" r="4.65"/>
<circle cx="369.3" cy="2081.3" r="4.65"/>
<circle cx="356" cy="2083" r="4.65"/>
<circle cx="363.7" cy="2089.2" r="4.65"/>
<circle cx="411.1" cy="2093.5" r="4.65"/>
<circle cx="385.7" cy="2105.6" r="4.65"/>
<circle cx="372.7" cy="2112.6" r="4.65"/>
<circle cx="386.8" cy="2125.1" r="4.65"/>
<circle cx="364.2" cy="2129.6" r="4.65"/>
<circle cx="374.1" cy="2131" r="4.65"/>
<circle cx="338.8" cy="2136.1" r="4.65"/>
<circle cx="370.7" cy="2135.8" r="4.65"/>
<circle cx="372.7" cy="2141.4" r="4.65"/>
<circle cx="416.7" cy="2149.3" r="4.65"/>
<circle cx="368.7" cy="2149.9" r="4.65"/>
<circle cx="378.3" cy="2150.7" r="4.65"/>
<circle cx="353.8" cy="2153.3" r="4.65"/>
<circle cx="368.5" cy="2158.9" r="4.65"/>
<circle cx="374.9" cy="2161.2" r="4.65"/>
<circle cx="382" cy="2166.3" r="4.65"/>
<circle cx="343.9" cy="2174.3" r="4.65"/>
<circle cx="386.8" cy="2179.2" r="4.65"/>
<circle cx="348.7" cy="2189.1" r="4.65"/>
<circle cx="378.3" cy="2189.9" r="4.65"/>
<circle cx="386.2" cy="2193.5" r="4.65"/>
<circle cx="361.3" cy="2194.1" r="4.65"/>
<circle cx="360" cy="2198.2" r="4.65"/>
<circle cx="274.2" cy="2232.1" r="4.65"/>
<circle cx="390.5" cy="2228.7" r="4.65"/>
<circle cx="408.2" cy="2234.1" r="4.65"/>
<circle cx="355.8" cy="2238.3" r="4.65"/>
<circle cx="326.4" cy="2275" r="4.65"/>
<circle cx="334.6" cy="2280" r="4.65"/>
<circle cx="361.1" cy="2277.2" r="4.65"/>
<circle cx="275" cy="2284" r="4.65"/>
<circle cx="309" cy="2344.2" r="4.65"/>
<circle cx="245.7" cy="2505.8" r="4.65"/>
<circle cx="147.6" cy="2412.3" r="4.65"/>
</g>
<rect x="119.1" y="1858.6" width="408.9" height="677.8" fill="none" stroke="#231f20" stroke-width="2.3"/>
<path d="M136.6 2536.4V2550.4M214.6 2536.4V2550.4M292.5 2536.4V2550.4M369.9 2536.4V2550.4M448 2536.4V2550.4M526.4 2536.4V2550.4M528 1957.4H542M528 2065.2H542M528 2173.2H542M528 2280.9H542M528 2388.7H542M528 2496.5H542M267 1858.6V1844.8M359.6 1858.6V1844.8M453.9 1858.6V1844.8" stroke="#231f20" stroke-width="2.2" fill="none"/>
<text transform="translate(148.1 2625.86) rotate(-90) scale(0.9570 1)" font-size="38.4" xml:space="preserve">0.75</text>
<text transform="translate(226.1 2625.86) rotate(-90) scale(0.9570 1)" font-size="38.4" xml:space="preserve">0.50</text>
<text transform="translate(304 2625.86) rotate(-90) scale(0.9570 1)" font-size="38.4" xml:space="preserve">0.25</text>
<text transform="translate(381.4 2579.93) rotate(-90) scale(0.9570 1)" font-size="38.4" xml:space="preserve">0</text>
<text transform="translate(459.5 2625.86) rotate(-90) scale(0.9570 1)" font-size="38.4" xml:space="preserve">0.25</text>
<rect x="448.8" y="2627.85" width="2.6" height="22.8" fill="#231f20"/>
<text transform="translate(537.9 2625.86) rotate(-90) scale(0.9570 1)" font-size="38.4" xml:space="preserve">0.50</text>
<rect x="527.2" y="2627.85" width="2.6" height="22.8" fill="#231f20"/>
<text transform="translate(583.7 1966.49) rotate(-90) scale(0.9570 1)" font-size="38.4" xml:space="preserve">2</text>
<text transform="translate(583.7 2074.77) rotate(-90) scale(0.9570 1)" font-size="38.4" xml:space="preserve">1</text>
<text transform="translate(583.7 2182.77) rotate(-90) scale(0.9570 1)" font-size="38.4" xml:space="preserve">0</text>
<text transform="translate(583.7 2277.12) rotate(-90) scale(0.9570 1)" font-size="38.4" xml:space="preserve">1</text>
<rect x="573" y="2278.15" width="2.6" height="22.8" fill="#231f20"/>
<text transform="translate(583.7 2384.44) rotate(-90) scale(0.9570 1)" font-size="38.4" xml:space="preserve">2</text>
<rect x="573" y="2386.43" width="2.6" height="22.8" fill="#231f20"/>
<text transform="translate(583.7 2492.72) rotate(-90) scale(0.9570 1)" font-size="38.4" xml:space="preserve">3</text>
<rect x="573" y="2494.71" width="2.6" height="22.8" fill="#231f20"/>
<text transform="translate(274.4 1840.06) rotate(-90) scale(0.9550 1)" font-size="25.2" xml:space="preserve">0.33</text>
<text transform="translate(365.8 1840.06) rotate(-90) scale(0.9550 1)" font-size="25.2" xml:space="preserve">0.03</text>
<text transform="translate(462.8 1822.86) rotate(-90) scale(0.9550 1)" font-size="25.2" xml:space="preserve">0.27</text>
<rect x="455.7" y="1824.3" width="1.8" height="14.8" fill="#231f20"/>
<text transform="translate(630.1 2630.2) rotate(-90) scale(1.1082 1)" font-size="40" xml:space="preserve"><tspan style="word-spacing:-2.4px"><tspan font-style="italic">z</tspan> оценки средних значений</tspan></text>
<text transform="translate(630.1 2108.6) rotate(-90) scale(1.1057 1)" font-size="40" xml:space="preserve"><tspan style="word-spacing:-2.4px">жировой массы</tspan></text>
<text transform="translate(97.2 2210.38) rotate(-90) scale(1.0800 1)" font-size="45" font-style="italic" xml:space="preserve">а</text>
</g>
<g>
<rect x="942.1" y="1858.7" width="52.7" height="677.2" fill="#d6d7d9"/>
<rect x="1053.3" y="1858.7" width="31.8" height="677.2" fill="#d6d7d9"/>
<rect x="1143.8" y="1858.7" width="52.8" height="677.2" fill="#d6d7d9"/>
<line x1="967.5" y1="1858.7" x2="967.5" y2="2535.9" stroke="#231f20" stroke-width="3.05" stroke-dasharray="11.85 11.71" stroke-dashoffset="-5.35"/>
<line x1="1069.6" y1="1858.7" x2="1069.6" y2="2535.9" stroke="#231f20" stroke-width="3" stroke-dasharray="3 8.78" stroke-dashoffset="-3.39"/>
<line x1="1170.6" y1="1858.7" x2="1170.6" y2="2535.9" stroke="#231f20" stroke-width="3.05" stroke-dasharray="11.85 11.71" stroke-dashoffset="-5.35"/>
<g stroke="#231f20" stroke-opacity="0.7" stroke-width="2.15" fill="none">
<path d="M1154.5 2514.4V2535.9"/><path d="M1213.2 1886.9H1224.7"/>
<path d="M1045.1 2514.4V2535.9"/><path d="M1213.2 2061.3H1224.7"/>
<path d="M1093 2514.4V2535.9"/><path d="M1213.2 2077.4H1224.7"/>
<path d="M1095.8 2514.4V2535.9"/><path d="M1213.2 2079H1224.7"/>
<path d="M1012.1 2514.4V2535.9"/><path d="M1213.2 2095.1H1224.7"/>
<path d="M1082 2514.4V2535.9"/><path d="M1213.2 2097.7H1224.7"/>
<path d="M1084.3 2514.4V2535.9"/><path d="M1213.2 2111.8H1224.7"/>
<path d="M1055.8 2514.4V2535.9"/><path d="M1213.2 2127.3H1224.7"/>
<path d="M1041.1 2514.4V2535.9"/><path d="M1213.2 2139.4H1224.7"/>
<path d="M1027.6 2514.4V2535.9"/><path d="M1213.2 2143.1H1224.7"/>
<path d="M1010.6 2514.4V2535.9"/><path d="M1213.2 2152.7H1224.7"/>
<path d="M1041.7 2514.4V2535.9"/><path d="M1213.2 2152.4H1224.7"/>
<path d="M1002.2 2514.4V2535.9"/><path d="M1213.2 2166.8H1224.7"/>
<path d="M1072.2 2514.4V2535.9"/><path d="M1213.2 2170.5H1224.7"/>
<path d="M1018.3 2514.4V2535.9"/><path d="M1213.2 2174.5H1224.7"/>
<path d="M1030.4 2514.4V2535.9"/><path d="M1213.2 2175.5H1224.7"/>
<path d="M1080.9 2514.4V2535.9"/><path d="M1213.2 2174.5H1224.7"/>
<path d="M1091.9 2514.4V2535.9"/><path d="M1213.2 2179.4H1224.7"/>
<path d="M1062.8 2514.4V2535.9"/><path d="M1213.2 2183.5H1224.7"/>
<path d="M1133.1 2514.4V2535.9"/><path d="M1213.2 2183H1224.7"/>
<path d="M1072.4 2514.4V2535.9"/><path d="M1213.2 2192.1H1224.7"/>
<path d="M1086.8 2514.4V2535.9"/><path d="M1213.2 2196.6H1224.7"/>
<path d="M1011.2 2514.4V2535.9"/><path d="M1213.2 2205.3H1224.7"/>
<path d="M1142.4 2514.4V2535.9"/><path d="M1213.2 2217.1H1224.7"/>
<path d="M1024.5 2514.4V2535.9"/><path d="M1213.2 2222.8H1224.7"/>
<path d="M1078.9 2514.4V2535.9"/><path d="M1213.2 2224.5H1224.7"/>
<path d="M1045.9 2514.4V2535.9"/><path d="M1213.2 2237.7H1224.7"/>
<path d="M1052.1 2514.4V2535.9"/><path d="M1213.2 2242H1224.7"/>
<path d="M1107.7 2514.4V2535.9"/><path d="M1213.2 2247.9H1224.7"/>
<path d="M1059.5 2514.4V2535.9"/><path d="M1213.2 2256.3H1224.7"/>
<path d="M1083.7 2514.4V2535.9"/><path d="M1213.2 2260.3H1224.7"/>
<path d="M997.9 2514.4V2535.9"/><path d="M1213.2 2287.4H1224.7"/>
<path d="M1072.2 2514.4V2535.9"/><path d="M1213.2 2289.6H1224.7"/>
<path d="M1117.9 2514.4V2535.9"/><path d="M1213.2 2287.7H1224.7"/>
<path d="M1041.1 2514.4V2535.9"/><path d="M1213.2 2301.8H1224.7"/>
<path d="M1032.9 2514.4V2535.9"/><path d="M1213.2 2311.9H1224.7"/>
<path d="M1145.8 2514.4V2535.9"/><path d="M1213.2 2311.9H1224.7"/>
<path d="M1023.6 2514.4V2535.9"/><path d="M1213.2 2342.1H1224.7"/>
<path d="M1007.8 2514.4V2535.9"/><path d="M1213.2 2355.7H1224.7"/>
<path d="M1031.5 2514.4V2535.9"/><path d="M1213.2 2419.2H1224.7"/>
<path d="M1140.4 2514.4V2535.9"/><path d="M1213.2 2478.1H1224.7"/>
<path d="M1107.1 2514.4V2535.9"/><path d="M1213.2 2505.2H1224.7"/>
<path d="M1213.2 2472.5H1224.7"/>
</g>
<g fill="#231f20">
<circle cx="1154.5" cy="1886.9" r="4.65"/>
<circle cx="1045.1" cy="2061.3" r="4.65"/>
<circle cx="1093" cy="2077.4" r="4.65"/>
<circle cx="1095.8" cy="2079" r="4.65"/>
<circle cx="1012.1" cy="2095.1" r="4.65"/>
<circle cx="1082" cy="2097.7" r="4.65"/>
<circle cx="1084.3" cy="2111.8" r="4.65"/>
<circle cx="1055.8" cy="2127.3" r="4.65"/>
<circle cx="1041.1" cy="2139.4" r="4.65"/>
<circle cx="1027.6" cy="2143.1" r="4.65"/>
<circle cx="1010.6" cy="2152.7" r="4.65"/>
<circle cx="1041.7" cy="2152.4" r="4.65"/>
<circle cx="1002.2" cy="2166.8" r="4.65"/>
<circle cx="1072.2" cy="2170.5" r="4.65"/>
<circle cx="1018.3" cy="2174.5" r="4.65"/>
<circle cx="1030.4" cy="2175.5" r="4.65"/>
<circle cx="1080.9" cy="2174.5" r="4.65"/>
<circle cx="1091.9" cy="2179.4" r="4.65"/>
<circle cx="1062.8" cy="2183.5" r="4.65"/>
<circle cx="1133.1" cy="2183" r="4.65"/>
<circle cx="1072.4" cy="2192.1" r="4.65"/>
<circle cx="1086.8" cy="2196.6" r="4.65"/>
<circle cx="1011.2" cy="2205.3" r="4.65"/>
<circle cx="1142.4" cy="2217.1" r="4.65"/>
<circle cx="1024.5" cy="2222.8" r="4.65"/>
<circle cx="1078.9" cy="2224.5" r="4.65"/>
<circle cx="1045.9" cy="2237.7" r="4.65"/>
<circle cx="1052.1" cy="2242" r="4.65"/>
<circle cx="1107.7" cy="2247.9" r="4.65"/>
<circle cx="1059.5" cy="2256.3" r="4.65"/>
<circle cx="1083.7" cy="2260.3" r="4.65"/>
<circle cx="997.9" cy="2287.4" r="4.65"/>
<circle cx="1072.2" cy="2289.6" r="4.65"/>
<circle cx="1117.9" cy="2287.7" r="4.65"/>
<circle cx="1041.1" cy="2301.8" r="4.65"/>
<circle cx="1032.9" cy="2311.9" r="4.65"/>
<circle cx="1145.8" cy="2311.9" r="4.65"/>
<circle cx="1023.6" cy="2342.1" r="4.65"/>
<circle cx="1007.8" cy="2355.7" r="4.65"/>
<circle cx="1031.5" cy="2419.2" r="4.65"/>
<circle cx="1140.4" cy="2478.1" r="4.65"/>
<circle cx="1107.1" cy="2505.2" r="4.65"/>
</g>
<rect x="815.5" y="1858.7" width="409.2" height="677.2" fill="none" stroke="#231f20" stroke-width="2.55"/>
<path d="M833.4 2535.9V2549.9M911 2535.9V2549.9M988.6 2535.9V2549.9M1066.2 2535.9V2549.9M1144 2535.9V2549.9M1222.3 2535.9V2549.9M1224.7 1898.2H1238.7M1224.7 2054.3H1238.7M1224.7 2210.2H1238.7M1224.7 2365.8H1238.7M1224.7 2521.9H1238.7M969.6 1858.7V1844.9M1069.7 1858.7V1844.9M1169.8 1858.7V1844.9" stroke="#231f20" stroke-width="2.2" fill="none"/>
<text transform="translate(844.4 2625.96) rotate(-90) scale(0.9570 1)" font-size="38.4" xml:space="preserve">0.75</text>
<text transform="translate(922 2625.96) rotate(-90) scale(0.9570 1)" font-size="38.4" xml:space="preserve">0.50</text>
<text transform="translate(999.6 2625.96) rotate(-90) scale(0.9570 1)" font-size="38.4" xml:space="preserve">0.25</text>
<text transform="translate(1077.2 2580.03) rotate(-90) scale(0.9570 1)" font-size="38.4" xml:space="preserve">0</text>
<text transform="translate(1155 2625.96) rotate(-90) scale(0.9570 1)" font-size="38.4" xml:space="preserve">0.25</text>
<rect x="1144.3" y="2627.95" width="2.6" height="22.8" fill="#231f20"/>
<text transform="translate(1233.3 2625.96) rotate(-90) scale(0.9570 1)" font-size="38.4" xml:space="preserve">0.50</text>
<rect x="1222.6" y="2627.95" width="2.6" height="22.8" fill="#231f20"/>
<text transform="translate(1280.2 1907.29) rotate(-90) scale(0.9570 1)" font-size="38.4" xml:space="preserve">2</text>
<text transform="translate(1280.2 2063.87) rotate(-90) scale(0.9570 1)" font-size="38.4" xml:space="preserve">1</text>
<text transform="translate(1280.2 2219.77) rotate(-90) scale(0.9570 1)" font-size="38.4" xml:space="preserve">0</text>
<text transform="translate(1280.2 2362.02) rotate(-90) scale(0.9570 1)" font-size="38.4" xml:space="preserve">1</text>
<rect x="1269.5" y="2363.05" width="2.6" height="22.8" fill="#231f20"/>
<text transform="translate(1280.2 2517.64) rotate(-90) scale(0.9570 1)" font-size="38.4" xml:space="preserve">2</text>
<rect x="1269.5" y="2519.63" width="2.6" height="22.8" fill="#231f20"/>
<text transform="translate(980.1 1840.05) rotate(-90) scale(0.9550 1)" font-size="25.2" xml:space="preserve">0.31</text>
<text transform="translate(1077.5 1822.85) rotate(-90) scale(0.9550 1)" font-size="25.2" xml:space="preserve">0.01</text>
<rect x="1070.4" y="1824.3" width="1.8" height="14.8" fill="#231f20"/>
<text transform="translate(1181.2 1822.85) rotate(-90) scale(0.9550 1)" font-size="25.2" xml:space="preserve">0.34</text>
<rect x="1174.1" y="1824.3" width="1.8" height="14.8" fill="#231f20"/>
<text transform="translate(1318.4 2619.3) rotate(-90) scale(1.1057 1)" font-size="40" xml:space="preserve"><tspan style="word-spacing:-2.4px"><tspan font-style="italic">z</tspan> оценки средних значений</tspan></text>
<text transform="translate(1318.4 2098) rotate(-90) scale(1.1000 1)" font-size="40" xml:space="preserve"><tspan style="word-spacing:-2.4px">жировой массы</tspan></text>
<text transform="translate(793.3 2210.56) rotate(-90) scale(1.1600 1)" font-size="43.5" font-style="italic" xml:space="preserve">г</text>
</g>
<text transform="translate(35.3 1469.3) rotate(-90) scale(1.0358 1)" font-size="41.5" xml:space="preserve">АВС-02 “Медасс”</text>
<text transform="translate(729.3 1423.86) rotate(-90) scale(0.9597 1)" font-size="41.8" font-style="italic" xml:space="preserve">BodyMetrix</text>
<text transform="translate(713.7 1234.69) rotate(-90) scale(1.1463 1)" font-size="30" font-style="italic" xml:space="preserve">TM</text>
<text transform="translate(998 2665.9) rotate(180) scale(1.0907 1)" font-size="36.6" xml:space="preserve"><tspan style="word-spacing:-2.2px"><tspan font-style="italic">z</tspan> оценки разности <tspan font-style="italic">%</tspan> жировой массы</tspan></text>
</svg></body></html>
